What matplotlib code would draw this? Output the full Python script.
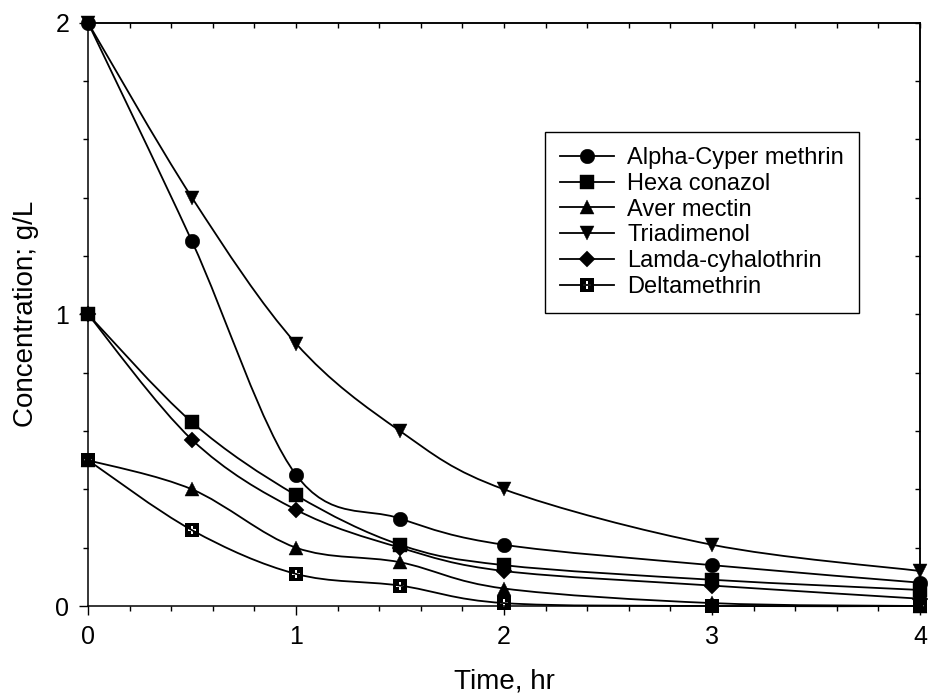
import numpy as np
import matplotlib
matplotlib.use("Agg")
import matplotlib.pyplot as plt
from matplotlib.path import Path
from matplotlib.patches import PathPatch
from matplotlib.lines import Line2D
from matplotlib.ticker import MultipleLocator

# ── data ─────────────────────────────────────────────────────────────────────
time_hr = [0, 0.5, 1, 1.5, 2, 3, 4]
alpha_cyper = [2.0, 1.25, 0.45, 0.30, 0.21, 0.14, 0.08]
hexa_conazol = [1.0, 0.63, 0.38, 0.21, 0.14, 0.09, 0.055]
aver_mectin = [0.5, 0.40, 0.20, 0.15, 0.06, 0.01, 0.0]
triadimenol = [2.0, 1.40, 0.90, 0.60, 0.40, 0.21, 0.12]
lamda_cyhal = [1.0, 0.57, 0.33, 0.20, 0.12, 0.07, 0.025]
deltamethrin = [0.5, 0.26, 0.11, 0.07, 0.01, 0.0, 0.0]

labels = ["Alpha-Cyper methrin", "Hexa conazol", "Aver mectin",
          "Triadimenol", "Lamda-cyhalothrin", "Deltamethrin"]
series = [alpha_cyper, hexa_conazol, aver_mectin, triadimenol, lamda_cyhal, deltamethrin]

plt.rcParams["font.family"] = ["Liberation Sans", "DejaVu Sans"]


# black square with a small white plus cut out of it
def plus_square():
    outer = [(-0.5, -0.5), (0.5, -0.5), (0.5, 0.5), (-0.5, 0.5), (-0.5, -0.5)]
    a, w = 0.27, 0.09
    inner = [(-w, -a), (-w, -w), (-a, -w), (-a, w), (-w, w), (-w, a),
             (w, a), (w, w), (a, w), (a, -w), (w, -w), (w, -a), (-w, -a)]
    verts = outer + inner
    codes = ([Path.MOVETO] + [Path.LINETO] * 3 + [Path.CLOSEPOLY]
             + [Path.MOVETO] + [Path.LINETO] * 11 + [Path.CLOSEPOLY])
    return Path(verts, codes)


markers = ["o", "s", "^", "v", "D", plus_square()]
msizes = [10.5, 9.5, 10.5, 10.5, 8.0, 10.0]
medges = [0.3, 0.3, 0.3, 0.3, 0.3, 0.0]


# smoothed connecting line (Catmull-Rom style Bezier through the data points)
def smooth_path(xs, ys):
    pts = np.column_stack([xs, ys]).astype(float)
    n = len(pts)
    verts = [pts[0]]
    codes = [Path.MOVETO]
    for i in range(n - 1):
        p0 = pts[max(i - 1, 0)]
        p1 = pts[i]
        p2 = pts[i + 1]
        p3 = pts[min(i + 2, n - 1)]
        verts += [p1 + (p2 - p0) / 6, p2 - (p3 - p1) / 6, p2]
        codes += [Path.CURVE4] * 3
    return Path(verts, codes)


fig = plt.figure(figsize=(9.29, 7.0), dpi=100)
ax = fig.add_axes([88 / 929, 1 - 606 / 700, (920 - 88) / 929, (606 - 22.7) / 700])

LW = 1.3
handles = []
for ys, lab, m, ms, mw in zip(series, labels, markers, msizes, medges):
    ax.add_patch(PathPatch(smooth_path(time_hr, ys), fill=False, lw=LW,
                           edgecolor="black", transform=ax.transData, clip_on=False))
    ax.plot(time_hr, ys, linestyle="none", marker=m, ms=ms, color="black",
            mec="black", mew=mw, clip_on=False, zorder=3)
    handles.append(Line2D([], [], color="black", lw=LW, marker=m, ms=ms, mew=mw, label=lab))

ax.set_xlim(0, 4)
ax.set_ylim(0, 2)
ax.xaxis.set_major_locator(MultipleLocator(1))
ax.xaxis.set_minor_locator(MultipleLocator(0.2))
ax.yaxis.set_major_locator(MultipleLocator(1))
ax.yaxis.set_minor_locator(MultipleLocator(0.2))
ax.tick_params(which="major", direction="out", length=6.5, width=1, labelsize=18, pad=7,
               top=False, right=False)
ax.tick_params(which="minor", direction="out", length=3.6, width=1, top=False, right=False)
for sp in ax.spines.values():
    sp.set_linewidth(1.1)

# inward ticks on top and right
secx = ax.secondary_xaxis("top")
secx.xaxis.set_major_locator(MultipleLocator(1))
secx.xaxis.set_minor_locator(MultipleLocator(0.2))
secx.tick_params(which="both", direction="in", length=3.6, width=1, labeltop=False)
secy = ax.secondary_yaxis("right")
secy.yaxis.set_major_locator(MultipleLocator(1))
secy.yaxis.set_minor_locator(MultipleLocator(0.2))
secy.tick_params(which="both", direction="in", length=3.6, width=1, labelright=False)
for s in (secx, secy):
    for sp in s.spines.values():
        sp.set_linewidth(1.1)

ax.set_xlabel("Time, hr", fontsize=20, labelpad=14)
ax.set_ylabel("Concentration; g/L", fontsize=20, labelpad=12)

leg = ax.legend(handles=handles, loc="upper right", bbox_to_anchor=(0.927, 0.813),
                borderaxespad=0, fontsize=17, frameon=True, fancybox=False,
                edgecolor="black", framealpha=1, handlelength=2.3, handletextpad=0.55,
                labelspacing=0.16, borderpad=0.65, numpoints=1)
leg.get_frame().set_linewidth(1.0)

fig.savefig("out.png", dpi=100)
